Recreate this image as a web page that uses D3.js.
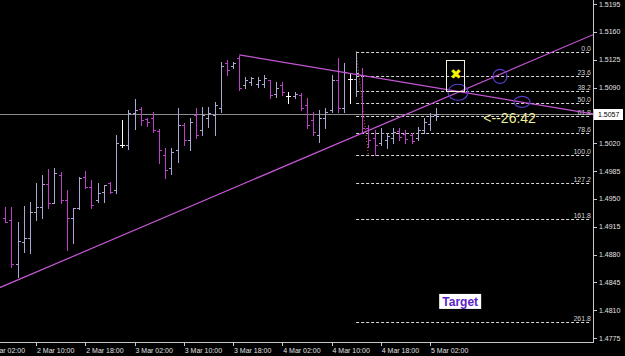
<!DOCTYPE html>
<html>
<head>
<meta charset="utf-8">
<script src="https://cdn.jsdelivr.net/npm/d3@7"></script>
<style>
body { margin: 0; background: #000; overflow: hidden; }
svg { display: block; font-family: "Liberation Sans", Arial, sans-serif; }
</style>
</head>
<body>
<div id="chart"></div>
<script>
// H1 bars, first bar 2 Mar 05:00
var firstBar = Date.UTC(2010, 2, 2, 5);
var opens = [1.4926, 1.4923, 1.4868, 1.4896, 1.4901, 1.4934, 1.4940, 1.4969, 1.4945, 1.4980,
  1.4949, 1.4926, 1.4939, 1.4978, 1.4965, 1.4949, 1.4959, 1.4970, 1.4961, 1.5018,
  1.5018, 1.5058, 1.5063, 1.5050, 1.5052, 1.5035, 1.5005, 1.4989, 1.5011, 1.5043,
  1.5024, 1.5055, 1.5037, 1.5052, 1.5055, 1.5064, 1.5121, 1.5117, 1.5127, 1.5093,
  1.5097, 1.5094, 1.5094, 1.5099, 1.5082, 1.5093, 1.5079, 1.5079, 1.5081, 1.5068,
  1.5049, 1.5030, 1.5052, 1.5062, 1.5099, 1.5064, 1.5101, 1.5101, 1.5106, 1.5039,
  1.5027, 1.5020, 1.5024, 1.5027, 1.5035, 1.5032, 1.5030, 1.5027, 1.5037, 1.5044,
  1.5055];
var highs = [1.4940, 1.4940, 1.4921, 1.4941, 1.4946, 1.4970, 1.4980, 1.4988, 1.4989, 1.4984,
  1.4961, 1.4939, 1.4978, 1.4985, 1.4974, 1.4970, 1.4968, 1.4971, 1.5030, 1.5049,
  1.5062, 1.5076, 1.5066, 1.5052, 1.5059, 1.5038, 1.5014, 1.5014, 1.5064, 1.5045,
  1.5052, 1.5064, 1.5066, 1.5066, 1.5072, 1.5122, 1.5125, 1.5122, 1.5130, 1.5103,
  1.5103, 1.5103, 1.5106, 1.5100, 1.5097, 1.5097, 1.5084, 1.5084, 1.5083, 1.5077,
  1.5059, 1.5062, 1.5064, 1.5106, 1.5127, 1.5121, 1.5108, 1.5135, 1.5115, 1.5043,
  1.5037, 1.5039, 1.5033, 1.5039, 1.5039, 1.5037, 1.5033, 1.5040, 1.5052, 1.5058,
  1.5064];
var lows = [1.4921, 1.4864, 1.4852, 1.4883, 1.4882, 1.4924, 1.4926, 1.4939, 1.4945, 1.4945,
  1.4886, 1.4895, 1.4937, 1.4964, 1.4939, 1.4946, 1.4946, 1.4957, 1.4957, 1.5015,
  1.5013, 1.5038, 1.5043, 1.5042, 1.5034, 1.4995, 1.4976, 1.4981, 1.4996, 1.5018,
  1.5011, 1.5027, 1.5030, 1.5040, 1.5030, 1.5059, 1.5106, 1.5115, 1.5087, 1.5089,
  1.5093, 1.5091, 1.5091, 1.5077, 1.5078, 1.5081, 1.5071, 1.5077, 1.5062, 1.5039,
  1.5030, 1.5022, 1.5039, 1.5059, 1.5059, 1.5059, 1.5071, 1.5079, 1.5033, 1.5015,
  1.5005, 1.5018, 1.5014, 1.5020, 1.5024, 1.5020, 1.5020, 1.5024, 1.5033, 1.5037,
  1.5049];
var closes = [1.4921, 1.4868, 1.4897, 1.4901, 1.4934, 1.4940, 1.4969, 1.4945, 1.4983, 1.4949,
  1.4926, 1.4938, 1.4976, 1.4965, 1.4942, 1.4957, 1.4967, 1.4959, 1.5020, 1.5018,
  1.5058, 1.5062, 1.5049, 1.5047, 1.5037, 1.5011, 1.4986, 1.5009, 1.5043, 1.5024,
  1.5047, 1.5030, 1.5055, 1.5058, 1.5068, 1.5117, 1.5112, 1.5121, 1.5089, 1.5099,
  1.5102, 1.5099, 1.5102, 1.5081, 1.5089, 1.5084, 1.5079, 1.5082, 1.5064, 1.5043,
  1.5034, 1.5052, 1.5059, 1.5099, 1.5064, 1.5110, 1.5101, 1.5108, 1.5039, 1.5024,
  1.5018, 1.5033, 1.5029, 1.5034, 1.5028, 1.5025, 1.5023, 1.5037, 1.5047, 1.5054,
  1.5057];

var priceTicks = [1.4775, 1.4810, 1.4845, 1.4880, 1.4915, 1.4950, 1.4985, 1.5020,
  1.5055, 1.5090, 1.5125, 1.5160, 1.5195];
var timeTicks = [Date.UTC(2010, 2, 2, 2), Date.UTC(2010, 2, 2, 10), Date.UTC(2010, 2, 2, 18),
  Date.UTC(2010, 2, 3, 2), Date.UTC(2010, 2, 3, 10), Date.UTC(2010, 2, 3, 18),
  Date.UTC(2010, 2, 4, 2), Date.UTC(2010, 2, 4, 10), Date.UTC(2010, 2, 4, 18),
  Date.UTC(2010, 2, 5, 2)];
var currentPrice = 1.5057;

var fiboLevels = [0, 23.6, 38.2, 50, 61.8, 78.6, 100, 127.2, 161.8, 261.8];
var fiboLabels = ["0.0", "23.6", "38.2", "50.0", "61.8", "78.6", "100.0", "127.2", "161.8", "261.8"];
var fiboStart = Date.UTC(2010, 2, 4, 14);
var fiboHigh = 1.5135, fiboLow = 1.5005;

var trendUp = [[Date.UTC(2010, 2, 2, 4), 1.4838], [Date.UTC(2010, 2, 5, 12), 1.5102]];
var trendDown = [[Date.UTC(2010, 2, 3, 19), 1.5131], [Date.UTC(2010, 2, 5, 12), 1.5078]];
var circles = [[Date.UTC(2010, 2, 5, 6, 33), 1.5084, 10, 8], [Date.UTC(2010, 2, 5, 13, 22), 1.5104, 7, 7],
  [Date.UTC(2010, 2, 5, 16, 57), 1.5072, 8, 5.5]];

var W = 625, H = 356, plotR = 593, plotB = 342;

var svg = d3.select("#chart").append("svg").attr("width", W).attr("height", H)
  .style("background", "#000");

var x = d3.scaleUtc()
  .domain([Date.UTC(2010, 2, 2, 10), Date.UTC(2010, 2, 5, 2)])
  .range([36, 430]);
var y = d3.scaleLinear().domain([1.4775, 1.5195]).range([338, 4]);

svg.append("clipPath").attr("id", "plot").append("rect")
  .attr("x", 0).attr("y", 0).attr("width", plotR).attr("height", plotB);
var g = svg.append("g").attr("clip-path", "url(#plot)");

var bars = opens.map(function (o, i) {
  return { t: firstBar + i * 3600000, o: o, h: highs[i], l: lows[i], c: closes[i] };
});
function barColor(d) {
  if (d.c > d.o) return "#a8a8d2";
  if (d.c < d.o) return "#bc40c8";
  return "#ffffff";
}

// current price line
g.append("line").attr("x1", 0).attr("x2", plotR)
  .attr("y1", Math.round(y(currentPrice)) + 0.5).attr("y2", Math.round(y(currentPrice)) + 0.5)
  .attr("stroke", "#8c8c8c").attr("stroke-width", 1);

// fibo levels
var fiboY = function (lv) { return y(fiboHigh - (fiboHigh - fiboLow) * lv / 100); };
g.selectAll(".fibo").data(fiboLevels).enter().append("line")
  .attr("x1", x(fiboStart)).attr("x2", 591)
  .attr("y1", function (d) { return Math.round(fiboY(d)) + 0.5; })
  .attr("y2", function (d) { return Math.round(fiboY(d)) + 0.5; })
  .attr("stroke", "#d8d8d8").attr("stroke-width", 1).attr("stroke-dasharray", "3,2");
g.selectAll(".fibot").data(fiboLevels).enter().append("text")
  .attr("x", 591).attr("y", function (d) { return Math.round(fiboY(d)) - 1; })
  .attr("text-anchor", "end").attr("font-size", 7).attr("fill", "#d0d0d0")
  .text(function (d, i) { return fiboLabels[i]; });
g.append("line")
  .attr("x1", Math.round(x(fiboStart)) + 0.5).attr("x2", Math.round(x(fiboStart)) + 0.5)
  .attr("y1", y(fiboHigh)).attr("y2", y(1.5080))
  .attr("stroke", "#d8d8d8").attr("stroke-dasharray", "3,2");
g.append("line")
  .attr("x1", x(fiboStart)).attr("y1", y(fiboHigh))
  .attr("x2", x(Date.UTC(2010, 2, 4, 16))).attr("y2", y(fiboLow))
  .attr("stroke", "#c87840").attr("stroke-dasharray", "1,2");

// bars
var bg = g.selectAll(".bar").data(bars).enter().append("g")
  .attr("stroke", barColor).attr("stroke-width", 1);
bg.append("line")
  .attr("x1", function (d) { return Math.round(x(d.t)) + 0.5; })
  .attr("x2", function (d) { return Math.round(x(d.t)) + 0.5; })
  .attr("y1", function (d) { return Math.round(y(d.h)); })
  .attr("y2", function (d) { return Math.round(y(d.l)) + 1; });
bg.append("line")
  .attr("x1", function (d) { return Math.round(x(d.t)) - 2; })
  .attr("x2", function (d) { return Math.round(x(d.t)); })
  .attr("y1", function (d) { return Math.round(y(d.o)) + 0.5; })
  .attr("y2", function (d) { return Math.round(y(d.o)) + 0.5; });
bg.append("line")
  .attr("x1", function (d) { return Math.round(x(d.t)) + 1; })
  .attr("x2", function (d) { return Math.round(x(d.t)) + 3; })
  .attr("y1", function (d) { return Math.round(y(d.c)) + 0.5; })
  .attr("y2", function (d) { return Math.round(y(d.c)) + 0.5; });

// trend lines, extended to the right edge
function ray(pts, fromLeft) {
  var x1 = x(pts[0][0]), y1 = y(pts[0][1]), x2 = x(pts[1][0]), y2 = y(pts[1][1]);
  var k = (y2 - y1) / (x2 - x1);
  var xs = fromLeft ? -5 : x1;
  g.append("line").attr("x1", xs).attr("y1", y1 + k * (xs - x1))
    .attr("x2", plotR).attr("y2", y1 + k * (plotR - x1))
    .attr("stroke", "#c656d6").attr("stroke-width", 1.2);
}
ray(trendUp, true);
ray(trendDown, false);

g.selectAll(".circ").data(circles).enter().append("ellipse")
  .attr("cx", function (d) { return x(d[0]); }).attr("cy", function (d) { return y(d[1]); })
  .attr("rx", function (d) { return d[2]; }).attr("ry", function (d) { return d[3]; })
  .attr("fill", "none").attr("stroke", "#5a3cc8").attr("stroke-width", 1.2);

// yellow cross box
var bx = x(Date.UTC(2010, 2, 5, 4, 40)), by = y(1.5125);
g.append("rect").attr("x", Math.round(bx) + 0.5).attr("y", Math.round(by) + 0.5)
  .attr("width", 18).attr("height", 31)
  .attr("fill", "none").attr("stroke", "#f2f2d8").attr("stroke-width", 1);
g.append("text").attr("x", bx + 9.5).attr("y", by + 19).attr("text-anchor", "middle")
  .attr("font-family", "DejaVu Sans").attr("font-size", 14).attr("font-weight", "bold")
  .attr("fill", "#f4f400").text("✖");

// countdown text
g.append("text").attr("x", x(Date.UTC(2010, 2, 5, 10, 40))).attr("y", y(1.5045))
  .attr("font-size", 14).attr("fill", "#eeee9a").text("<--26:42");

// target label
var tx = x(Date.UTC(2010, 2, 5, 6, 54)), ty = y(1.4821);
g.append("rect").attr("x", tx - 21).attr("y", ty - 7.5).attr("width", 42).attr("height", 15)
  .attr("fill", "#ffffff");
g.append("text").attr("x", tx).attr("y", ty + 4.5).attr("text-anchor", "middle")
  .attr("font-size", 12).attr("font-weight", "bold").attr("fill", "#5a22c8").text("Target");

// axes frame
svg.append("line").attr("x1", plotR + 0.5).attr("x2", plotR + 0.5).attr("y1", 0).attr("y2", plotB + 1)
  .attr("stroke", "#c8c8c8");
svg.append("line").attr("x1", 0).attr("x2", plotR + 1).attr("y1", plotB + 0.5).attr("y2", plotB + 0.5)
  .attr("stroke", "#c8c8c8");

// price axis
var pa = svg.selectAll(".pt").data(priceTicks).enter().append("g");
pa.append("line").attr("x1", plotR).attr("x2", plotR + 4)
  .attr("y1", function (d) { return Math.round(y(d)) + 0.5; })
  .attr("y2", function (d) { return Math.round(y(d)) + 0.5; })
  .attr("stroke", "#c8c8c8");
pa.append("text").attr("x", plotR + 6).attr("y", function (d) { return y(d) + 2.5; })
  .attr("font-size", 7).attr("fill", "#e0e0e0")
  .text(function (d) { return d.toFixed(4); });

svg.append("rect").attr("x", plotR + 1).attr("y", Math.round(y(currentPrice)) - 5)
  .attr("width", 29).attr("height", 11).attr("fill", "#ffffff");
svg.append("text").attr("x", plotR + 5).attr("y", y(currentPrice) + 3)
  .attr("font-size", 7).attr("fill", "#000").text(currentPrice.toFixed(4));

// time axis
var fmt = d3.utcFormat("%-d %b %H:%M");
var ta = svg.selectAll(".tt").data(timeTicks).enter().append("g");
ta.append("line")
  .attr("x1", function (d) { return Math.round(x(d)) + 0.5; })
  .attr("x2", function (d) { return Math.round(x(d)) + 0.5; })
  .attr("y1", plotB + 1).attr("y2", plotB + 4).attr("stroke", "#c8c8c8");
ta.append("text").attr("x", function (d) { return x(d) + 1; }).attr("y", 353)
  .attr("font-size", 7).attr("fill", "#e0e0e0")
  .text(function (d) { return fmt(new Date(d)); });
</script>
</body>
</html>
